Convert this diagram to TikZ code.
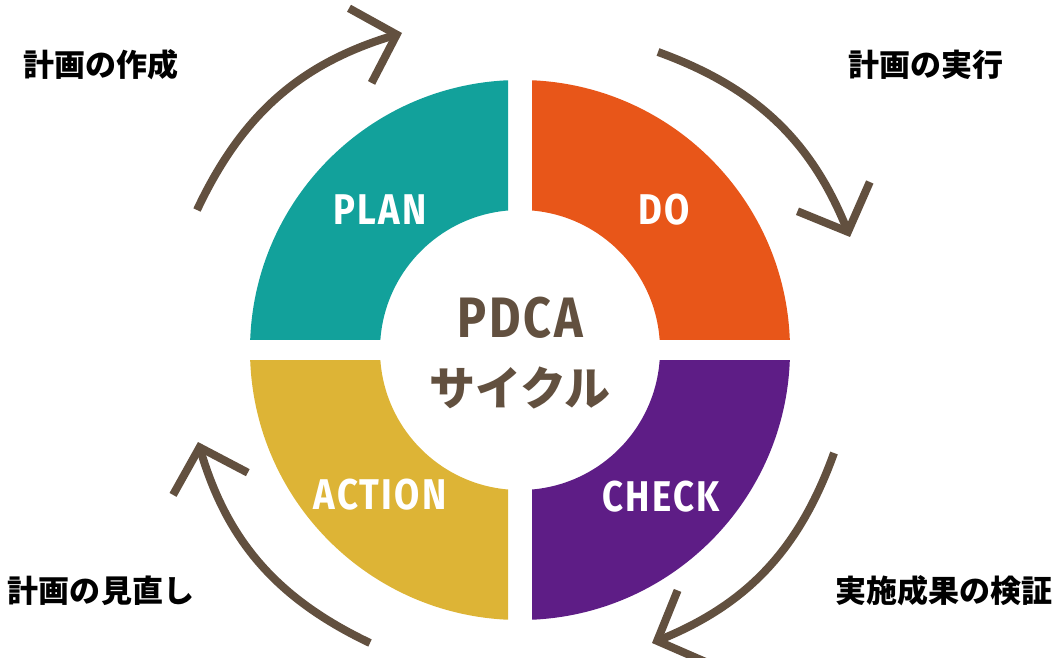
\documentclass[tikz,border=0pt]{standalone}
\usepackage{fontspec}
\setmainfont{Fira Sans}
\newfontfamily\cjk{Noto Sans CJK JP}
\newfontfamily\quadfont[FakeStretch=0.85,LetterSpace=5]{Fira Sans}
\usetikzlibrary{arrows.meta}
\definecolor{plancol}{HTML}{12A19B}
\definecolor{docol}{HTML}{E85619}
\definecolor{checkcol}{HTML}{5E1D86}
\definecolor{actcol}{HTML}{DDB436}
\definecolor{cyccol}{HTML}{62503F}
\tikzset{
  quad/.style={text=white, font=\quadfont\bfseries\fontsize{43}{48}\selectfont},
  side/.style={text=black, font=\cjk\bfseries\fontsize{31}{36}\selectfont},
  cyc/.style={draw=cyccol, line width=8pt, -{Straight Barb[length=38pt,width=78pt]}}
}
\begin{document}
\begin{tikzpicture}[x=1pt,y=1pt]
\useasboundingbox (0,0) rectangle (1057,657);
\coordinate (c) at (520,307);
% ring
\begin{scope}
\clip (200,317.5) rectangle (508,600);
\fill[plancol, even odd rule] (c) circle[radius=270] (c) circle[radius=140];
\end{scope}
\begin{scope}
\clip (532,317.5) rectangle (840,600);
\fill[docol, even odd rule] (c) circle[radius=270] (c) circle[radius=140];
\end{scope}
\begin{scope}
\clip (200,0) rectangle (508,296.5);
\fill[actcol, even odd rule] (c) circle[radius=270] (c) circle[radius=140];
\end{scope}
\begin{scope}
\clip (532,0) rectangle (840,296.5);
\fill[checkcol, even odd rule] (c) circle[radius=270] (c) circle[radius=140];
\end{scope}
\node[quad] (plan) at (380,447) {PLAN};
\node[quad] (do) at (664,447) {DO};
\node[quad] (act) at (380,162) {ACTION};
\node[quad] (chk) at (661,160) {CHECK};
\node[text=cyccol, font=\quadfont\bfseries\fontsize{57}{62}\selectfont] (pdca) at (520,339) {PDCA};
\node[text=cyccol, font=\cjk\bfseries\fontsize{46}{50}\selectfont] (cycle) at (520,269) {サイクル};
% texts
\node[side] (t1) at (101,592) {計画の作成};
\node[side] (t2) at (926,592) {計画の実行};
\node[side] (t3) at (944,66) {実施成果の検証};
\node[side] (t4) at (101,66) {計画の見直し};
% arrows
\coordinate (s1) at (197,447);
\coordinate (e1) at (402,624);
\coordinate (s2) at (658,605);
\coordinate (e2) at (850,420);
\coordinate (s3) at (834,204);
\coordinate (e3) at (652,14);
\coordinate (s4) at (370,14);
\coordinate (e4) at (198,215);
\path[cyc] (s1) to[bend left=24] (e1);
\path[cyc] (s2) to[bend left=24] (e2);
\path[cyc] (s3) to[bend left=24] (e3);
\path[cyc] (s4) to[bend left=24] (e4);
\end{tikzpicture}
\end{document}
